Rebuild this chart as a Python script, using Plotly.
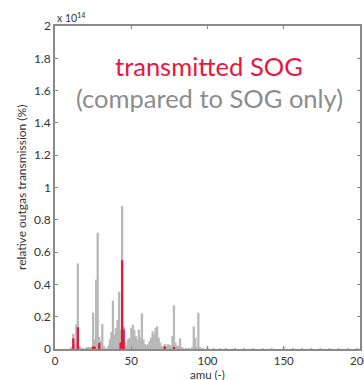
import plotly.graph_objects as go

# SOG only spectrum (gray), values in units of 1e14
sog_amu = [10, 11, 12, 13, 14, 15, 16, 17, 18, 20, 21, 22, 23, 24, 25, 26, 27, 28, 29, 30,
           31, 32, 33, 35, 36, 37, 38, 39, 40, 41, 42, 43, 44, 45, 46, 47, 48, 49, 50,
           51, 52, 53, 54, 55, 56, 57, 58, 59, 60, 61, 62, 63, 64, 65, 66, 67, 68, 69,
           70, 71, 72, 73, 74, 75, 76, 77, 78, 79, 80, 81, 82, 83, 84, 86, 88, 90, 91,
           92, 93, 94, 95, 97, 100, 104, 108, 112, 118, 124, 130, 136, 142, 150, 156,
           162, 168, 174, 180, 186, 192, 198]
sog_val = [0.005, 0.01, 0.095, 0.03, 0.155, 0.53, 0.02, 0.006, 0.006, 0.005, 0.01, 0.01,
           0.012, 0.015, 0.225, 0.06, 0.43, 0.72, 0.075, 0.05, 0.155, 0.02, 0.005, 0.02,
           0.06, 0.105, 0.30, 0.09, 0.13, 0.18, 0.355, 0.12, 0.885, 0.14, 0.045, 0.02,
           0.06, 0.07, 0.13, 0.15, 0.12, 0.08, 0.06, 0.12, 0.07, 0.22, 0.06, 0.03, 0.02,
           0.03, 0.05, 0.07, 0.11, 0.09, 0.13, 0.14, 0.07, 0.04, 0.015, 0.02, 0.03, 0.02,
           0.03, 0.025, 0.02, 0.08, 0.27, 0.04, 0.02, 0.02, 0.066, 0.01, 0.005, 0.005,
           0.005, 0.01, 0.14, 0.07, 0.01, 0.225, 0.01, 0.005, 0.01, 0.005, 0.005, 0.004,
           0.004, 0.004, 0.004, 0.004, 0.004, 0.01, 0.004, 0.004, 0.004, 0.004, 0.004,
           0.004, 0.004, 0.004]

# transmitted SOG (red)
trans_amu = [12, 15, 25, 26, 29, 43, 44, 45, 72, 78]
trans_val = [0.066, 0.135, 0.015, 0.015, 0.037, 0.04, 0.55, 0.12, 0.015, 0.012]

y_ticks = [0, 0.2, 0.4, 0.6, 0.8, 1, 1.2, 1.4, 1.6, 1.8, 2]
y_tick_text = ["0", "0.2", "0.4", "0.6", "0.8", "1", "1.2", "1.4", "1.6", "1.8", "2"]
x_ticks = [0, 50, 100, 150, 200]

FONT = "Lato"
AX = "#8a8a8a"
TXT = "#333333"

fig = go.Figure()
fig.add_trace(go.Bar(x=sog_amu, y=sog_val, width=1.5,
                     marker=dict(color="#b8b8b8", line=dict(width=0))))
fig.add_trace(go.Bar(x=trans_amu, y=trans_val, width=1.5,
                     marker=dict(color="#e8163f", line=dict(width=0))))

fig.update_layout(
    template="none",
    width=364, height=380,
    margin=dict(l=55, r=4, t=26, b=31),
    barmode="overlay",
    showlegend=False,
    paper_bgcolor="white", plot_bgcolor="white",
    font=dict(family=FONT, size=12, color=TXT),
    xaxis=dict(range=[0, 200], tickvals=x_ticks, ticks="inside", ticklen=3,
               tickcolor=AX, showline=True, linecolor=AX, linewidth=1.5, mirror="ticks",
               showgrid=False, zeroline=False, automargin=False,
               ticklabeloverflow="allow",
               tickfont=dict(family=FONT, size=11.5, color=TXT)),
    yaxis=dict(range=[0, 2], tickvals=y_ticks, ticktext=y_tick_text, ticks="inside",
               ticklen=3, tickcolor=AX, showline=True, linecolor=AX, linewidth=1.5,
               mirror="ticks", showgrid=False, zeroline=False, automargin=False,
               tickfont=dict(family=FONT, size=12, color=TXT)),
    annotations=[
        dict(text="transmitted SOG", xref="paper", yref="paper", x=0.505, y=0.876,
             xanchor="center", yanchor="middle",
             showarrow=False, font=dict(family=FONT, size=25.5, color="#e8163f")),
        dict(text="(compared to SOG only)", xref="paper", yref="paper", x=0.505, y=0.776,
             xanchor="center", yanchor="middle",
             showarrow=False, font=dict(family=FONT, size=25.5, color="#8c8c8c")),
        dict(text="x 10<sup>14</sup>", xref="paper", yref="paper", x=0.0, y=1.0,
             xanchor="left", yanchor="bottom", showarrow=False,
             font=dict(family=FONT, size=10.5, color=TXT)),
        dict(text="relative outgas transmission (%)", xref="paper", yref="paper",
             x=-0.11, y=0.5, textangle=-90, showarrow=False, xanchor="center",
             yanchor="middle",
             font=dict(family=FONT, size=12, color=TXT)),
        dict(text="amu (-)", xref="paper", yref="paper", x=0.5, y=-0.078,
             xanchor="center", yanchor="middle", showarrow=False,
             font=dict(family=FONT, size=11.5, color=TXT)),
    ],
)

fig.write_html("out.html")
